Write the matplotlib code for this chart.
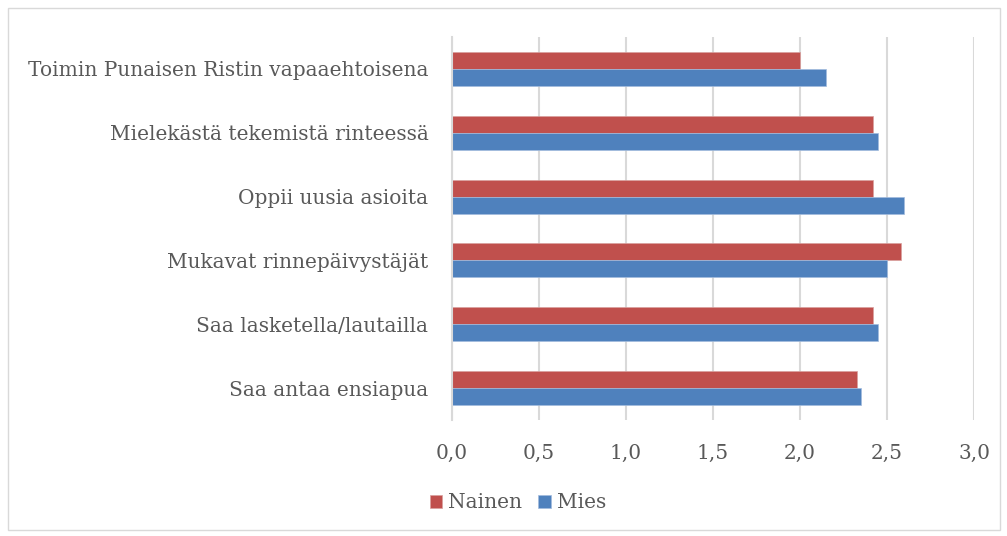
import numpy as np
import matplotlib.pyplot as plt
from matplotlib.patches import Rectangle

# data (bottom to top)
categories = ['Saa antaa ensiapua', 'Saa lasketella/lautailla', 'Mukavat rinnepäivystäjät',
              'Oppii uusia asioita', 'Mielekästä tekemistä rinteessä',
              'Toimin Punaisen Ristin vapaaehtoisena']
nainen = [2.33, 2.42, 2.58, 2.42, 2.42, 2.00]
mies = [2.35, 2.45, 2.50, 2.60, 2.45, 2.15]
ticks = [0.0, 0.5, 1.0, 1.5, 2.0, 2.5, 3.0]
tick_labels = ['0,0', '0,5', '1,0', '1,5', '2,0', '2,5', '3,0']

red = '#C0504D'
blue = '#4F81BD'
txt = '#595959'

plt.rcParams['font.family'] = ['DejaVu Serif']

fig = plt.figure(figsize=(10.07, 5.36), dpi=100)
ax = fig.add_axes([452/1007, 1 - 420/536, (974-452)/1007, (420-37)/536])

y = np.arange(len(categories))
h = 0.266
ax.barh(y + h/2, nainen, height=h, color=red, label='Nainen', edgecolor='#D8A09E', linewidth=0.5)
ax.barh(y - h/2, mies, height=h, color=blue, label='Mies', edgecolor='#A3BCDD', linewidth=0.5)

ax.set_xlim(0, 3.0)
ax.set_ylim(-0.5, len(categories) - 0.5)
ax.set_xticks(ticks)
ax.set_xticklabels(tick_labels)
ax.set_yticks(y)
ax.set_yticklabels(categories)
ax.tick_params(axis='both', length=0, colors=txt, labelsize=14.5)
ax.tick_params(axis='x', pad=17)
ax.tick_params(axis='y', pad=17)
ax.grid(axis='x', color='#D9D9D9', linewidth=1.5)
ax.set_axisbelow(True)
for s in ['top', 'right', 'bottom']:
    ax.spines[s].set_visible(False)
ax.spines['left'].set_color('#D9D9D9')
ax.spines['left'].set_linewidth(1.5)

leg = fig.legend(loc='center', bbox_to_anchor=(518/1007, 1 - 503/536), ncol=2, frameon=False,
                 fontsize=14.5, handlelength=0.6, handleheight=0.6, handletextpad=0.3, columnspacing=0.8)
for t in leg.get_texts():
    t.set_color(txt)

fig.patches.append(Rectangle((8/1007, 6/536), 992/1007, 522/536, transform=fig.transFigure,
                             fill=False, edgecolor='#D9D9D9', linewidth=1))

fig.savefig('out.png', dpi=100)
